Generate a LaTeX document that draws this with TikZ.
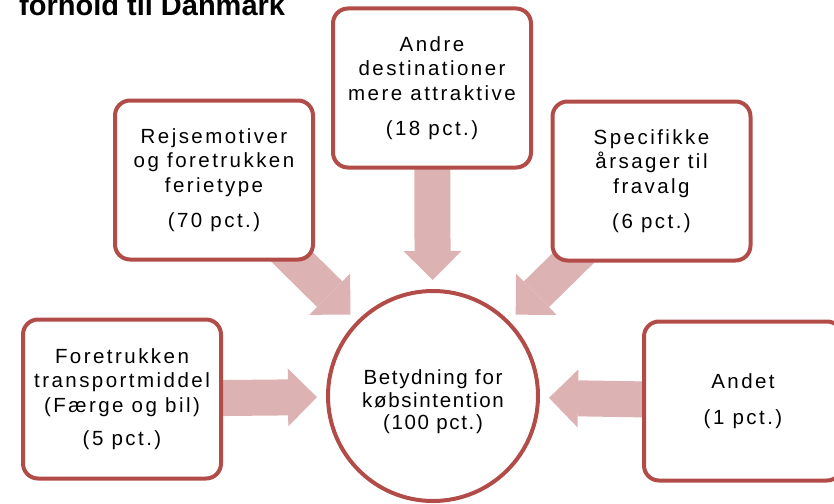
\documentclass[tikz,border=0pt]{standalone}
\usepackage{fontspec}
\setmainfont{Liberation Sans}
\newfontfamily\boxfont[LetterSpace=12]{Liberation Sans}
\newfontfamily\corefont[LetterSpace=8]{Liberation Sans}
\usetikzlibrary{arrows.meta}
\pgfdeclarelayer{background}
\pgfsetlayers{background,main}
\definecolor{boxred}{RGB}{178,76,72}
\definecolor{arrowpink}{RGB}{221,178,178}

\begin{document}
\begin{tikzpicture}[x=1pt,y=-1pt,
  factor/.style={draw=boxred,line width=4pt,fill=white,rounded corners=15pt,
    minimum width=198pt,minimum height=159pt,align=center,inner sep=0pt,
    font=\boxfont\fontsize{20.5}{24.5}\selectfont},
  core/.style={circle,draw=boxred,line width=4pt,fill=white,minimum size=210pt,
    inner sep=0pt},
  coretext/.style={align=center,inner sep=0pt,
    font=\corefont\fontsize{20.5}{22.5}\selectfont},
  bigarrow/.style={draw=arrowpink,line width=36pt,shorten >=9pt,
    -{Triangle[length=29pt,width=58pt,line width=0pt,fill=arrowpink]}}]

\useasboundingbox (0,0) rectangle (834,503);
\clip (0,0) rectangle (834,503);

%heading, cut at the top
\node [anchor=base west,inner sep=0pt,font=\bfseries\fontsize{29}{29}\selectfont]
  (heading) at (19,16) {forhold til Danmark};

%factor boxes
\node [factor] (andre) at (432,88) {Andre\\destinationer\\mere attraktive\\[11pt](18 pct.)};
\node [factor] (rejse) at (214,180) {Rejsemotiver\\og foretrukken\\ferietype\\[11pt](70 pct.)};
\node [factor] (aarsag) at (651.5,181) {Specifikke\\årsager til\\fravalg\\[11pt](6 pct.)};
\node [factor] (transport) at (122,399) {Foretrukken\\transportmiddel\\(Færge og bil)\\[9pt](5 pct.)};
\node [factor] (andet) at (743,401) {Andet\\[11pt](1 pct.)};

%centre circle
\node [core] (koeb) at (433,396) {};
\node [coretext] (koebtext) at (433,402) {Betydning for\\købsintention\\(100 pct.)};

%block arrows behind the boxes
\begin{pgfonlayer}{background}
\foreach \src in {andre,rejse,aarsag,transport,andet}
  \draw [bigarrow] (\src.center) -- (koeb);
\end{pgfonlayer}

\end{tikzpicture}
\end{document}
